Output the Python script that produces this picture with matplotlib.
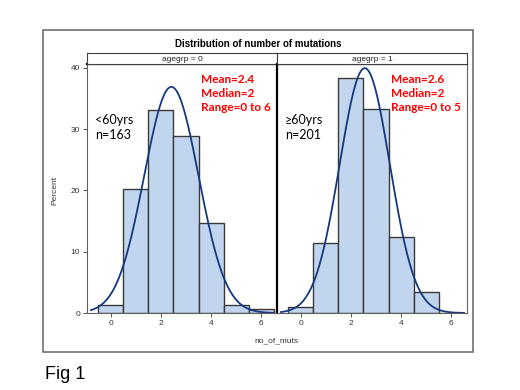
import numpy as np
import matplotlib
matplotlib.use('Agg')
import matplotlib.pyplot as plt
from matplotlib.patches import Rectangle

# mutation counts per number of mutations, by age group
muts = [0, 1, 2, 3, 4, 5, 6]
counts_young = [2, 33, 54, 47, 24, 2, 1]   # agegrp = 0, n=163
counts_old = [2, 23, 77, 67, 25, 7, 0]     # agegrp = 1, n=201

panels = [
    ('agegrp = 0', counts_young, '<60yrs\nn=163', 'Mean=2.4\nMedian=2\nRange=0 to 6'),
    ('agegrp = 1', counts_old, '\u226560yrs\nn=201', 'Mean=2.6\nMedian=2\nRange=0 to 5'),
]

plt.rcParams['font.family'] = ['Liberation Sans', 'DejaVu Sans']

W, H = 520, 390
fig = plt.figure(figsize=(W / 100, H / 100), dpi=100)

def fx(px):
    return px / W

def fy(py):
    return 1 - py / H

# outer frame
fig.patches.append(Rectangle((fx(43), fy(352)), fx(473) - fx(43), fy(30) - fy(352),
                             transform=fig.transFigure, fill=False,
                             edgecolor='#707070', linewidth=1.2))

left_px = [87, 277]
pw = 190
x = np.array(muts)
for i, (strip, counts, label, stats) in enumerate(panels):
    counts = np.array(counts)
    pct = counts / counts.sum() * 100
    ax = fig.add_axes([fx(left_px[i]), fy(313), pw / W, fy(64) - fy(313)])
    ax.patch.set_alpha(0)
    ax.bar(x, pct, width=1.0, color='#C2D5EE', edgecolor='#3a3a3a', linewidth=1.0)
    # fitted normal curve
    m = np.sum(x * counts) / counts.sum()
    sd = np.sqrt(np.sum(counts * (x - m) ** 2) / (counts.sum() - 1))
    xx = np.linspace(-0.78, 6.5, 300)
    yy = 100 / (sd * np.sqrt(2 * np.pi)) * np.exp(-0.5 * ((xx - m) / sd) ** 2)
    ax.plot(xx, yy, color='#15397F', linewidth=1.3)
    ax.set_xlim(-0.94, 6.62)
    ax.set_ylim(0, 40.6)
    ax.set_xticks([0, 2, 4, 6])
    ax.tick_params(labelsize=6, colors='#333333', length=3, width=0.6, pad=2)
    if i == 0:
        ax.set_yticks([0, 10, 20, 30, 40])
    else:
        ax.set_yticks([])
    for s in ['left', 'right', 'bottom']:
        ax.spines[s].set_color('#606060')
        ax.spines[s].set_linewidth(0.8)
    ax.spines['top'].set_color('black')
    ax.spines['top'].set_linewidth(1.6)
    if i == 0:
        ax.spines['right'].set_color('black')
        ax.spines['right'].set_linewidth(1.6)
    else:
        ax.spines['left'].set_visible(False)
    ax.text(-0.62, 32.4, label, fontsize=9, family=['Lato', 'DejaVu Sans'],
            va='top', ha='left', linespacing=1.25)
    ax.text(3.6, 38.9, stats, fontsize=8.5, family=['Lato', 'DejaVu Sans'],
            fontweight='bold', color='#FF0000', va='top', ha='left', linespacing=1.3)

    # strip header
    sax = fig.add_axes([fx(left_px[i]), fy(64), pw / W, fy(53) - fy(64)])
    sax.set_xticks([])
    sax.set_yticks([])
    for s in sax.spines.values():
        s.set_color('#404040')
        s.set_linewidth(0.8)
    sax.text(0.5, 0.45, strip, transform=sax.transAxes, ha='center', va='center',
             fontsize=6, color='#222222')

fig.text(fx(258), fy(44), 'Distribution of number of mutations', ha='center', va='center',
         fontsize=7, fontweight='bold')
fig.text(fx(55), fy(190), 'Percent', rotation=90, ha='center', va='center',
         fontsize=6, color='#333333')
fig.text(fx(276), fy(341), 'no_of_muts', ha='center', va='center',
         fontsize=6, color='#333333')
fig.text(fx(45), fy(379), 'Fig 1', ha='left', va='baseline', fontsize=13)

fig.savefig('out.png', dpi=100, facecolor='white')
